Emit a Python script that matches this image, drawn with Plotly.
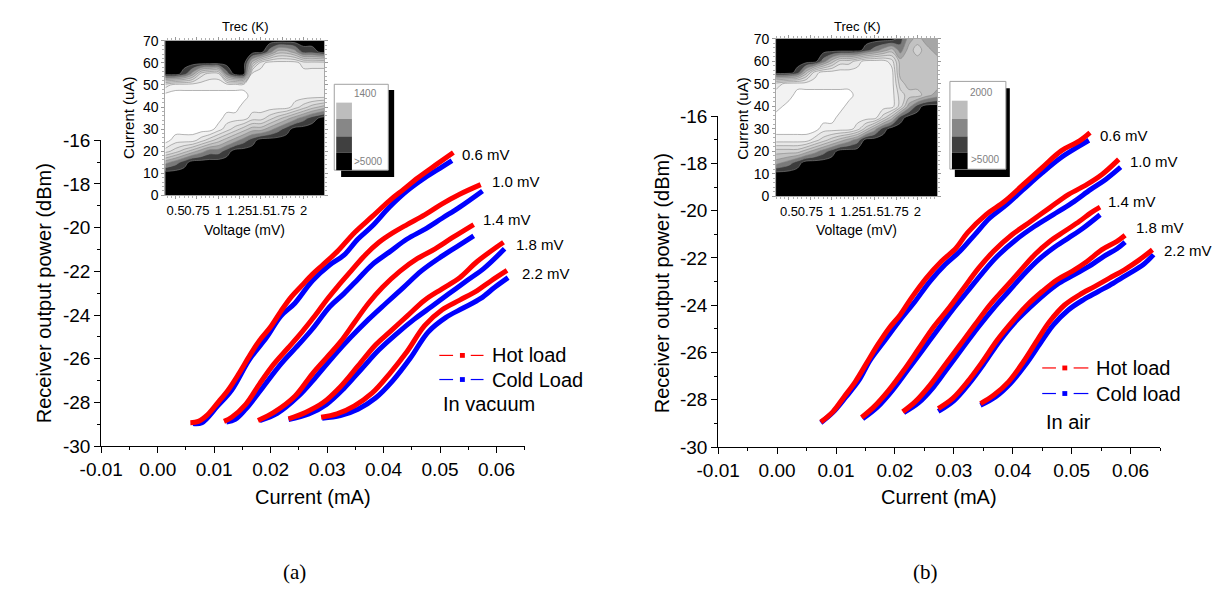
import plotly.graph_objects as go

W, H = 1217, 597
FONT = "Liberation Sans, Arial, sans-serif"
RED, BLUE = "#ff0000", "#0000ff"


def px(x):
    return x / W


def py(y):
    return 1 - y / H


# ---------------- main curves, panel (a): in vacuum (current mA, power dBm) ----------------
VAC_HOT_06 = [(0.00578, -28.93), (0.00720, -28.87), (0.00876, -28.58), (0.01062, -28.02), (0.01248, -27.43),
              (0.01435, -26.69), (0.01621, -25.89), (0.01807, -25.15), (0.01994, -24.56), (0.02180, -23.83),
              (0.02366, -23.17), (0.02553, -22.65), (0.02739, -22.14), (0.02925, -21.70), (0.03174, -21.11),
              (0.03484, -20.23), (0.03795, -19.50), (0.04106, -18.76), (0.04354, -18.25), (0.04602, -17.73),
              (0.04913, -17.15), (0.05236, -16.56)]
VAC_COLD_06 = [(0.00627, -28.97), (0.00783, -28.93), (0.01062, -28.16), (0.01311, -27.43), (0.01621, -26.05),
               (0.01932, -25.01), (0.02180, -24.05), (0.02429, -23.46), (0.02739, -22.43), (0.03050, -21.70),
               (0.03298, -21.26), (0.03547, -20.52), (0.03795, -19.94), (0.04106, -19.06), (0.04416, -18.32),
               (0.04727, -17.73), (0.05037, -17.22), (0.05211, -16.93)]
VAC_HOT_10 = [(0.01174, -28.87), (0.01311, -28.68), (0.01559, -28.09), (0.01807, -27.14), (0.02056, -26.25),
              (0.02304, -25.52), (0.02553, -24.78), (0.02801, -23.98), (0.02988, -23.32), (0.03174, -22.73),
              (0.03422, -21.99), (0.03671, -21.26), (0.03919, -20.67), (0.04168, -20.23), (0.04416, -19.86),
              (0.04727, -19.42), (0.05037, -18.91), (0.05348, -18.47), (0.05720, -18.03)]
VAC_COLD_10 = [(0.01217, -28.90), (0.01373, -28.78), (0.01559, -28.31), (0.01870, -27.28), (0.02180, -26.25),
               (0.02491, -25.37), (0.02739, -24.64), (0.03050, -23.61), (0.03298, -23.02), (0.03547, -22.36),
               (0.03795, -21.70), (0.04106, -21.11), (0.04416, -20.52), (0.04727, -20.08), (0.05037, -19.57),
               (0.05348, -19.06), (0.05752, -18.32)]
VAC_HOT_14 = [(0.01776, -28.83), (0.02056, -28.46), (0.02429, -27.72), (0.02739, -26.69), (0.02988, -25.96),
              (0.03236, -25.23), (0.03484, -24.34), (0.03733, -23.46), (0.03981, -22.73), (0.04292, -21.99),
              (0.04602, -21.41), (0.04913, -20.97), (0.05224, -20.45), (0.05596, -19.86)]
VAC_COLD_14 = [(0.01807, -28.83), (0.02118, -28.50), (0.02491, -27.72), (0.02801, -26.84), (0.03112, -25.89),
               (0.03422, -25.01), (0.03733, -24.20), (0.04043, -23.46), (0.04354, -22.73), (0.04665, -21.99),
               (0.04975, -21.41), (0.05286, -20.89), (0.05596, -20.38)]
VAC_HOT_18 = [(0.02317, -28.75), (0.02615, -28.46), (0.02925, -28.02), (0.03236, -27.28), (0.03547, -26.33),
              (0.03857, -25.37), (0.04106, -24.78), (0.04416, -24.05), (0.04727, -23.32), (0.05037, -22.80),
              (0.05348, -22.29), (0.05658, -21.55), (0.06124, -20.67)]
VAC_COLD_18 = [(0.02317, -28.78), (0.02677, -28.53), (0.02988, -28.09), (0.03298, -27.36), (0.03609, -26.47),
               (0.03919, -25.59), (0.04230, -24.86), (0.04540, -24.20), (0.04851, -23.61), (0.05161, -23.02),
               (0.05472, -22.43), (0.05783, -21.85), (0.06143, -20.97)]
VAC_HOT_22 = [(0.02894, -28.68), (0.03174, -28.53), (0.03484, -28.16), (0.03795, -27.58), (0.04106, -26.69),
              (0.04416, -25.67), (0.04727, -24.49), (0.05037, -23.76), (0.05348, -23.32), (0.05658, -22.88),
              (0.05907, -22.43), (0.06186, -21.96)]
VAC_COLD_22 = [(0.02913, -28.72), (0.03236, -28.60), (0.03547, -28.31), (0.03857, -27.80), (0.04168, -26.99),
               (0.04478, -25.96), (0.04789, -24.78), (0.05099, -24.12), (0.05410, -23.68), (0.05720, -23.24),
               (0.05969, -22.73), (0.06205, -22.29)]

# ---------------- main curves, panel (b): in air ----------------
AIR_HOT_06 = [(0.00742, -28.94), (0.00945, -28.51), (0.01136, -27.88), (0.01326, -27.24), (0.01517, -26.46),
              (0.01707, -25.68), (0.01897, -24.98), (0.02088, -24.41), (0.02278, -23.70), (0.02532, -22.85),
              (0.02786, -22.15), (0.03039, -21.58), (0.03230, -20.94), (0.03547, -20.17), (0.03864, -19.60),
              (0.04181, -18.89), (0.04499, -18.18), (0.04816, -17.48), (0.05133, -17.05), (0.05311, -16.70)]
AIR_COLD_06 = [(0.00742, -28.97), (0.00945, -28.54), (0.01168, -27.88), (0.01390, -27.17), (0.01580, -26.32),
               (0.01834, -25.47), (0.02088, -24.62), (0.02341, -23.84), (0.02595, -22.99), (0.02849, -22.29),
               (0.03103, -21.72), (0.03357, -21.01), (0.03610, -20.31), (0.03864, -19.81), (0.04181, -19.10),
               (0.04499, -18.40), (0.04816, -17.76), (0.05133, -17.26), (0.05292, -17.02)]
AIR_HOT_10 = [(0.01434, -28.75), (0.01643, -28.30), (0.01897, -27.59), (0.02151, -26.75), (0.02405, -25.83),
              (0.02659, -24.91), (0.02912, -24.13), (0.03166, -23.28), (0.03420, -22.43), (0.03674, -21.72),
              (0.03991, -21.01), (0.04308, -20.45), (0.04626, -19.88), (0.04943, -19.32), (0.05260, -18.89),
              (0.05514, -18.47), (0.05799, -17.83)]
AIR_COLD_10 = [(0.01453, -28.80), (0.01707, -28.30), (0.01961, -27.59), (0.02214, -26.75), (0.02468, -25.90),
               (0.02722, -25.05), (0.02976, -24.20), (0.03230, -23.42), (0.03484, -22.64), (0.03737, -21.93),
               (0.04055, -21.23), (0.04372, -20.66), (0.04689, -20.17), (0.05006, -19.67), (0.05324, -19.10),
               (0.05577, -18.68), (0.05831, -18.16)]
AIR_HOT_14 = [(0.02132, -28.51), (0.02341, -28.09), (0.02595, -27.38), (0.02849, -26.53), (0.03103, -25.68),
              (0.03357, -24.83), (0.03610, -23.99), (0.03864, -23.28), (0.04118, -22.57), (0.04372, -21.86),
              (0.04626, -21.30), (0.04880, -20.87), (0.05133, -20.45), (0.05324, -20.09), (0.05482, -19.85)]
AIR_COLD_14 = [(0.02151, -28.54), (0.02405, -28.12), (0.02659, -27.45), (0.02912, -26.60), (0.03166, -25.75),
               (0.03420, -24.91), (0.03674, -24.13), (0.03928, -23.42), (0.04181, -22.71), (0.04435, -22.08),
               (0.04689, -21.58), (0.04943, -21.16), (0.05197, -20.73), (0.05482, -20.17)]
AIR_HOT_18 = [(0.02735, -28.37), (0.02976, -27.95), (0.03230, -27.24), (0.03484, -26.39), (0.03737, -25.47),
              (0.03991, -24.69), (0.04245, -23.99), (0.04499, -23.42), (0.04753, -22.92), (0.05006, -22.57),
              (0.05260, -22.15), (0.05514, -21.65), (0.05768, -21.30), (0.05907, -21.04)]
AIR_COLD_18 = [(0.02735, -28.49), (0.03008, -28.02), (0.03261, -27.31), (0.03515, -26.46), (0.03769, -25.54),
               (0.04023, -24.76), (0.04277, -24.13), (0.04530, -23.56), (0.04784, -23.07), (0.05038, -22.71),
               (0.05292, -22.36), (0.05546, -21.93), (0.05768, -21.61), (0.05907, -21.33)]
AIR_HOT_22 = [(0.03452, -28.16), (0.03674, -27.81), (0.03928, -27.24), (0.04181, -26.39), (0.04435, -25.40),
              (0.04626, -24.69), (0.04880, -23.99), (0.05133, -23.56), (0.05387, -23.21), (0.05641, -22.85),
              (0.05895, -22.50), (0.06148, -22.08), (0.06371, -21.65)]
AIR_COLD_22 = [(0.03452, -28.23), (0.03706, -27.88), (0.03959, -27.31), (0.04213, -26.53), (0.04467, -25.61),
               (0.04689, -24.83), (0.04943, -24.20), (0.05197, -23.77), (0.05451, -23.42), (0.05704, -23.07),
               (0.05958, -22.68), (0.06212, -22.29), (0.06390, -21.86)]

# bias labels
BIAS_TEXT = ["0.6 mV", "1.0 mV", "1.4 mV", "1.8 mV", "2.2 mV"]
VAC_LABEL_X = [0.0536, 0.0588, 0.0573, 0.0631, 0.0642]
VAC_LABEL_Y = [-16.63, -17.88, -19.64, -20.79, -22.11]
AIR_LABEL_X = [0.0545, 0.0596, 0.0559, 0.0605, 0.0649]
AIR_LABEL_Y = [-16.84, -17.90, -19.60, -20.70, -21.69]

# legends
LEGEND_A = ["Hot load", "Cold Load"]
LEGEND_B = ["Hot load", "Cold load"]
NOTE_A, NOTE_B = "In vacuum", "In air"

# axis ticks
X_TICKS = [-0.01, 0.0, 0.01, 0.02, 0.03, 0.04, 0.05, 0.06]
X_TICKTEXT = ["-0.01", "0.00", "0.01", "0.02", "0.03", "0.04", "0.05", "0.06"]
Y_TICKS = [-30, -28, -26, -24, -22, -20, -18, -16]
Y_TICKTEXT = ["-30", "-28", "-26", "-24", "-22", "-20", "-18", "-16"]

# ---------------- insets: Trec maps (band level 0 = lowest Trec ... 9 = >5000 K) ----------------
INSET_I = [0, 5, 10, 15, 20, 25, 30, 35, 40, 45, 50, 55, 60, 65, 70]
INSET_A_V = [0.38, 0.5, 0.6, 0.7, 0.8, 0.9, 1.0, 1.1, 1.2, 1.3, 1.4, 1.5, 1.6, 1.7, 1.8, 1.9, 2.0, 2.1, 2.245]
INSET_A_LEVELS = [
    "9999999999999999999",
    "9999999999999999999",
    "9999999999999999999",
    "6789999999999999999",
    "2345677899999999999",
    "0111234567899999999",
    "0000001234556789999",
    "0000000111223456789",
    "0000000001111112345",
    "0000000000111111111",
    "2111111111111111111",
    "9986322799111111111",
    "9999999999521111222",
    "9999999999997556889",
    "9999999999999999999",
]
INSET_B_V = [0.35, 0.5, 0.6, 0.7, 0.8, 0.9, 1.0, 1.1, 1.2, 1.3, 1.4, 1.5, 1.6, 1.7, 1.8, 1.9, 2.0, 2.1, 2.23]
INSET_B_LEVELS = [
    "9999999999999999999",
    "9999999999999999999",
    "9999999999999999999",
    "6789999999999999999",
    "4445678999999999999",
    "1111234567999999999",
    "0000011112468999999",
    "0000000111113589999",
    "1000000011111136899",
    "1100000001111134456",
    "2111111111111145555",
    "9985211111111155555",
    "9999975332111255555",
    "9999999999876575456",
    "9999999999999986566",
]
INSET_X_TICKS = [0.5, 0.75, 1, 1.25, 1.5, 1.75, 2]
INSET_X_TICKTEXT = ["0.5", "0.75", "1", "1.25", "1.5", "1.75", "2"]
INSET_Y_TICKS = [0, 10, 20, 30, 40, 50, 60, 70]
BAND_COLORS = ["#ffffff", "#f2f2f2", "#e8e8e8", "#dedede", "#d2d2d2", "#c2c2c2",
               "#a6a6a6", "#7a7a7a", "#3c3c3c", "#000000"]
KEY_COLORS = ["#bdbdbd", "#878787", "#404040", "#000000"]
KEY_TOP = ["1400", "2000"]

fig = go.Figure()

panels = [
    ("x", "y", [VAC_COLD_06, VAC_COLD_10, VAC_COLD_14, VAC_COLD_18, VAC_COLD_22],
     [VAC_HOT_06, VAC_HOT_10, VAC_HOT_14, VAC_HOT_18, VAC_HOT_22]),
    ("x2", "y2", [AIR_COLD_06, AIR_COLD_10, AIR_COLD_14, AIR_COLD_18, AIR_COLD_22],
     [AIR_HOT_06, AIR_HOT_10, AIR_HOT_14, AIR_HOT_18, AIR_HOT_22]),
]
for xa, ya, colds, hots in panels:
    for cold, hot in zip(colds, hots):
        for series, col in ((cold, BLUE), (hot, RED)):
            fig.add_trace(go.Scatter(
                x=[p[0] for p in series], y=[p[1] for p in series],
                mode="lines", line=dict(color=col, width=5, shape="spline", smoothing=1.0),
                xaxis=xa, yaxis=ya, showlegend=False, hoverinfo="skip"))

# inset contour maps
colorscale = [[i / 9, c] for i, c in enumerate(BAND_COLORS)]
for V, levels, xa, ya in ((INSET_A_V, INSET_A_LEVELS, "x3", "y3"), (INSET_B_V, INSET_B_LEVELS, "x4", "y4")):
    z = [[int(ch) for ch in row] for row in levels]
    fig.add_trace(go.Contour(
        x=V, y=INSET_I, z=z, xaxis=xa, yaxis=ya, zmin=0, zmax=9,
        colorscale=colorscale, showscale=False, hoverinfo="skip",
        contours=dict(start=0.5, end=8.5, size=1, coloring="fill", showlines=True),
        line=dict(color="#858585", width=0.6, smoothing=1.0)))

main_x = dict(range=[-0.01, 0.065], tickmode="array", tickvals=X_TICKS, ticktext=X_TICKTEXT,
              ticks="outside", ticklen=6, tickwidth=1, tickcolor="black",
              showline=True, linecolor="black", linewidth=1, showgrid=False, zeroline=False,
              tickfont=dict(size=19, family=FONT, color="black"),
              minor=dict(dtick=0.005, tick0=0, ticks="outside", ticklen=3, tickcolor="black", showgrid=False))
main_y = dict(range=[-30, -16], tickmode="array", tickvals=Y_TICKS, ticktext=Y_TICKTEXT,
              ticks="outside", ticklen=6, tickwidth=1, tickcolor="black",
              showline=True, linecolor="black", linewidth=1, showgrid=False, zeroline=False,
              tickfont=dict(size=19, family=FONT, color="black"),
              minor=dict(dtick=1, tick0=0, ticks="outside", ticklen=3, tickcolor="black", showgrid=False))
inset_x = dict(tickmode="array", tickvals=INSET_X_TICKS, ticktext=INSET_X_TICKTEXT, tickangle=0,
               ticks="outside", ticklen=3, tickcolor="#999999",
               showline=True, linecolor="#a8a8a8", linewidth=1, mirror="allticks",
               showgrid=False, zeroline=False, tickfont=dict(size=13, family=FONT, color="black"),
               minor=dict(dtick=0.05, tick0=0, ticks="outside", ticklen=2, tickcolor="#b0b0b0"))
inset_y = dict(range=[0, 70], tickmode="array", tickvals=INSET_Y_TICKS, tickangle=0,
               ticks="outside", ticklen=3, tickcolor="#999999",
               showline=True, linecolor="#a8a8a8", linewidth=1, mirror="allticks",
               showgrid=False, zeroline=False, tickfont=dict(size=14, family=FONT, color="black"),
               minor=dict(dtick=2, tick0=0, ticks="outside", ticklen=2, tickcolor="#b0b0b0"))

fig.update_layout(
    width=W, height=H, autosize=False,
    margin=dict(l=0, r=0, t=0, b=0),
    paper_bgcolor="white", plot_bgcolor="rgba(0,0,0,0)",
    font=dict(family=FONT, color="black"),
    hovermode=False, showlegend=False,
    xaxis=dict(main_x, domain=[px(80.7), px(512)], anchor="y"),
    yaxis=dict(main_y, domain=[py(452), py(135)], anchor="x"),
    xaxis2=dict(main_x, domain=[px(709), px(1159)], anchor="y2"),
    yaxis2=dict(main_y, domain=[py(453), py(110)], anchor="x2"),
    xaxis3=dict(inset_x, range=[0.38, 2.245], domain=[px(146), px(308)], anchor="y3"),
    yaxis3=dict(inset_y, domain=[py(192), py(32)], anchor="x3"),
    xaxis4=dict(inset_x, range=[0.35, 2.23], domain=[px(768), px(932)], anchor="y4"),
    yaxis4=dict(inset_y, domain=[py(193), py(30)], anchor="x4"),
)

ann = []
shapes = []


def text(t, x, y, size, xanchor="center", angle=0, color="black", family=FONT, xref="paper", yref="paper",
         xshift=0):
    if xref == "paper":
        x, y = px(x), py(y)
    ann.append(dict(text=t, x=x, y=y, xref=xref, yref=yref, xanchor=xanchor, yanchor="middle",
                    textangle=angle, showarrow=False, xshift=xshift,
                    font=dict(size=size, family=family, color=color)))


# bias labels
for t, x, y in zip(BIAS_TEXT, VAC_LABEL_X, VAC_LABEL_Y):
    text(t, x, y, 15, xanchor="left", xref="x", yref="y")
for t, x, y in zip(BIAS_TEXT, AIR_LABEL_X, AIR_LABEL_Y):
    text(t, x, y, 15, xanchor="left", xref="x2", yref="y2", xshift=3 if x > 0.0645 else 0)

# legends: (dash, square, dash) + label
for labels, note, (d1, d2, sq, d3, d4, tx), rows, cols in (
        (LEGEND_A, NOTE_A, (425, 439, 448.5, 457, 470, 477), (358, 383, 408), (RED, BLUE)),
        (LEGEND_B, NOTE_B, (1039, 1053, 1062, 1071, 1086, 1092), (371, 397.5, 427), (RED, BLUE))):
    for lab, yy, col in zip(labels, rows[:2], cols):
        for a, b in ((d1, d2), (d3, d4)):
            shapes.append(dict(type="line", xref="paper", yref="paper", x0=px(a), x1=px(b),
                               y0=py(yy), y1=py(yy), line=dict(color=col, width=1.2)))
        shapes.append(dict(type="rect", xref="paper", yref="paper", x0=px(sq - 2.5), x1=px(sq + 2.5),
                           y0=py(yy + 2.5), y1=py(yy - 2.5), fillcolor=col, line=dict(width=0)))
        text(lab, tx, yy, 20, xanchor="left")
    text(note, d1 + 2, rows[2], 20, xanchor="left")

# axis titles
for cx in (296, 934):
    text("Current (mA)", cx, 505, 20)
for cx, cy in ((22, 294), (652, 283)):
    text("Receiver output power (dBm)", cx, cy, 20, angle=-90)
# inset titles
for cx in (227, 850):
    text("Trec (K)", cx, 17, 13)
    text("Voltage (mV)", cx, 228, 14)
for cx in (108, 733):
    text("Current (uA)", cx, 112, 15, angle=-90)
# sub-figure labels
for t, cx in (("(a)", 278), ("(b)", 920)):
    text(t, cx, 582, 21, family="Liberation Serif, Times New Roman, serif")

# inset colour keys
for (bx0, bx1, by0, by1, sx0, sx1, sy0, sy1, swx1, bands, top, tx, ty, btx, bty) in (
        (318, 373, 77, 166, 325, 379, 83, 173, 336, (96, 113, 131, 148, 166), KEY_TOP[0], 350, 87, 353, 157),
        (945, 1002, 74, 165, 950, 1006, 81, 173, 963, (94, 113, 131, 148, 165), KEY_TOP[1], 977, 86, 981, 155)):
    shapes.append(dict(type="rect", xref="paper", yref="paper", x0=px(sx0), x1=px(sx1), y0=py(sy1), y1=py(sy0),
                       fillcolor="black", line=dict(width=0)))
    shapes.append(dict(type="rect", xref="paper", yref="paper", x0=px(bx0), x1=px(bx1), y0=py(by1), y1=py(by0),
                       fillcolor="white", line=dict(color="#a0a0a0", width=1)))
    for (ya, yb), colr in zip(zip(bands[:-1], bands[1:]), KEY_COLORS):
        shapes.append(dict(type="rect", xref="paper", yref="paper", x0=px(bx0 + 2), x1=px(swx1),
                           y0=py(yb), y1=py(ya), fillcolor=colr, line=dict(width=0)))
    text(top, tx, ty, 10, color="#808080")
    text("&gt;5000", btx, bty, 10, color="#808080")

fig.update_layout(annotations=ann, shapes=shapes)
# the page's default 8px body margin would shift the 1217x597 figure inside the window
fig.write_html("out.html", config={"displayModeBar": False, "staticPlot": True},
               post_script="document.body.style.margin='0px';document.body.style.overflow='hidden';")
